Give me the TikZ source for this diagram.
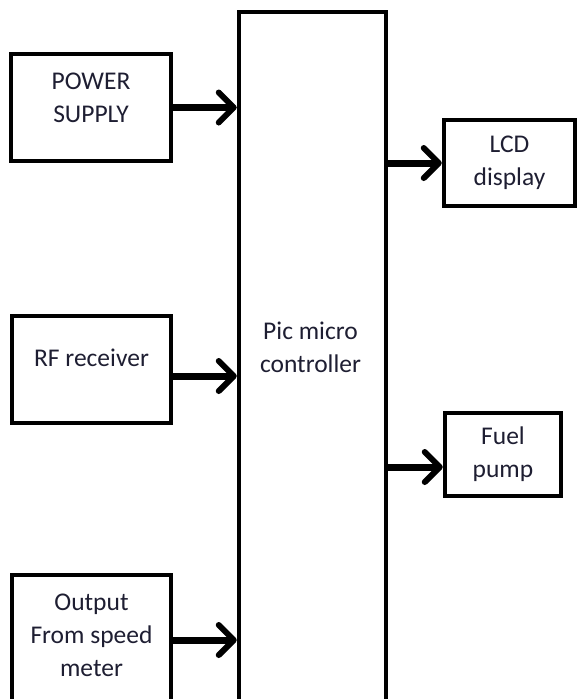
\documentclass[tikz,border=0pt]{standalone}
\usepackage{fontspec}
\setmainfont{Carlito}
\usetikzlibrary{arrows.meta}
\definecolor{txtcol}{HTML}{1E1E32}
\begin{document}
\begin{tikzpicture}[x=1pt,y=-1pt,
  box/.style={draw=black, line width=4.5pt, inner sep=0pt, fill=none},
  txt/.style={font=\fontsize{25.5}{33}\selectfont, text=txtcol, align=center},
  arr/.style={line width=7pt, -{Straight Barb[length=15pt,width=30pt,line width=6pt,round]}}]
\useasboundingbox (0,0) rectangle (578,699);
\clip (0,0) rectangle (578,699);
% boxes
\node[box, minimum width=160pt, minimum height=107pt,
  label={[txt, yshift=9.5pt]center:POWER\\SUPPLY}] (ps) at (91,107.5) {};
\node[box, minimum width=159pt, minimum height=107pt,
  label={[txt, yshift=11.5pt]center:RF receiver}] (rf) at (91.5,369.5) {};
\node[box, minimum width=159pt, minimum height=145pt,
  label={[txt, yshift=12.5pt]center:Output\\From speed\\meter}] (sm) at (91.5,647.5) {};
\node[box, minimum width=147pt, minimum height=718pt,
  label={[txt, yshift=24pt, xshift=-2pt]center:Pic micro\\controller}] (mcu) at (312.5,371) {};
\node[box, minimum width=131pt, minimum height=86pt,
  label={[txt]center:LCD\\display}] (lcd) at (509.5,163) {};
\node[box, minimum width=116pt, minimum height=83pt,
  label={[txt]center:Fuel\\pump}] (fp) at (503,454.5) {};
% arrows
\draw[arr] (ps.east) -- (ps.east -| mcu.west);
\draw[arr] ([yshift=-6.5pt]rf.east) -- ([yshift=-6.5pt]rf.east -| mcu.west);
\draw[arr] ([yshift=7.5pt]sm.east) -- ([yshift=7.5pt]sm.east -| mcu.west);
\draw[arr] (lcd.west -| mcu.east) -- (lcd.west);
\draw[arr] ([yshift=-12.5pt]fp.west -| mcu.east) -- ([yshift=-12.5pt]fp.west);
\end{tikzpicture}
\end{document}
